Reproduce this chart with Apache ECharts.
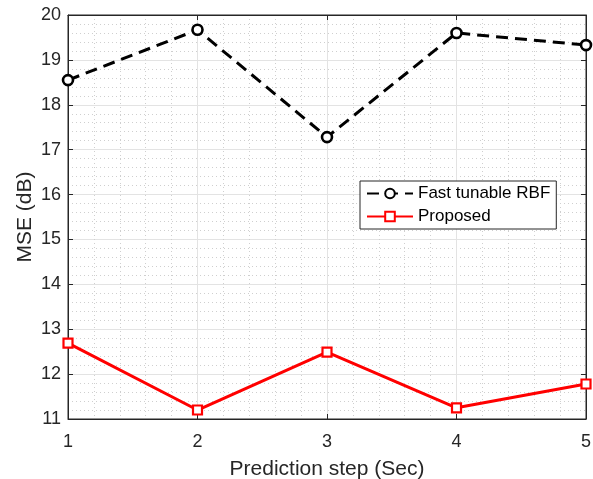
<!DOCTYPE html>
<html><head><meta charset="utf-8">
<script src="https://cdn.jsdelivr.net/npm/echarts@6/dist/echarts.min.js"></script>
<style>html,body{margin:0;padding:0;background:#fff}#c{width:593px;height:479px}</style>
</head><body><div id="c"></div>
<script>
const steps = [1, 2, 3, 4, 5];
const fastRBF = [18.55, 19.67, 17.28, 19.60, 19.33];
const proposed = [12.69, 11.20, 12.49, 11.25, 11.78];
const seriesNames = ['Fast tunable RBF', 'Proposed'];
const xTitle = 'Prediction step (Sec)';
const yTitle = 'MSE (dB)';

const chart = echarts.init(document.getElementById('c'), null, {renderer: 'canvas'});
const txt = '#262626';
const font = 'Liberation Sans';
const minorLine = {show: true, lineStyle: {color: '#cfcfcf', type: [1, 3], width: 1}};
const majorLine = {show: true, lineStyle: {color: '#e3e3e3', width: 1}};
chart.setOption({
  animation: false,
  grid: {left: 68, right: 7, top: 15, bottom: 60, containLabel: false, outerBoundsMode: 'none',
    show: true, borderColor: txt, borderWidth: 1, backgroundColor: 'transparent'},
  legend: {
    left: 360, top: 181, orient: 'vertical', itemWidth: 46, itemHeight: 12, itemGap: 6,
    padding: [4, 6, 4, 6], borderColor: txt, borderWidth: 1, backgroundColor: '#fff',
    textStyle: {fontFamily: font, fontSize: 17, color: '#000'},
    data: seriesNames
  },
  graphic: [{
    type: 'text', x: 25, y: 217, rotation: Math.PI / 2,
    style: {text: yTitle, fontFamily: font, fontSize: 21, fill: txt, textAlign: 'center', textVerticalAlign: 'middle'}
  }],
  xAxis: [{
    type: 'value', min: 1, max: 5, interval: 1,
    axisLine: {show: true, onZero: false, lineStyle: {color: txt}},
    axisTick: {show: true, inside: true, length: 5, lineStyle: {color: txt}},
    axisLabel: {fontFamily: font, fontSize: 18, color: txt, margin: 14},
    minorTick: {show: false, splitNumber: 5},
    splitLine: majorLine, minorSplitLine: minorLine,
    name: xTitle, nameLocation: 'middle', nameGap: 40,
    nameTextStyle: {fontFamily: font, fontSize: 21, color: txt}
  }, {
    type: 'value', min: 1, max: 5, interval: 1, position: 'top',
    axisLine: {show: true, onZero: false, lineStyle: {color: txt}},
    axisTick: {show: true, inside: true, length: 5, lineStyle: {color: txt}},
    axisLabel: {show: false}, splitLine: {show: false}
  }],
  yAxis: [{
    type: 'value', min: 11, max: 20, interval: 1,
    axisLine: {show: true, onZero: false, lineStyle: {color: txt}},
    axisTick: {show: true, inside: true, length: 5, lineStyle: {color: txt}},
    axisLabel: {fontFamily: font, fontSize: 18, color: txt, margin: 7},
    minorTick: {show: false, splitNumber: 5},
    splitLine: majorLine, minorSplitLine: minorLine
  }, {
    type: 'value', min: 11, max: 20, interval: 1, position: 'right',
    axisLine: {show: true, onZero: false, lineStyle: {color: txt}},
    axisTick: {show: true, inside: true, length: 5, lineStyle: {color: txt}},
    axisLabel: {show: false}, splitLine: {show: false}
  }],
  series: [{
    name: seriesNames[0], type: 'line',
    data: steps.map((s, i) => [s, fastRBF[i]]),
    symbol: 'circle', symbolSize: 10,
    lineStyle: {color: '#000', width: 3, type: [12, 7]},
    itemStyle: {color: '#fff', borderColor: '#000', borderWidth: 2.6},
    z: 3
  }, {
    name: seriesNames[1], type: 'line',
    data: steps.map((s, i) => [s, proposed[i]]),
    symbol: 'rect', symbolSize: 9,
    lineStyle: {color: '#ff0000', width: 3},
    itemStyle: {color: '#fff', borderColor: '#ff0000', borderWidth: 2.2},
    z: 3
  }]
});
</script></body></html>
